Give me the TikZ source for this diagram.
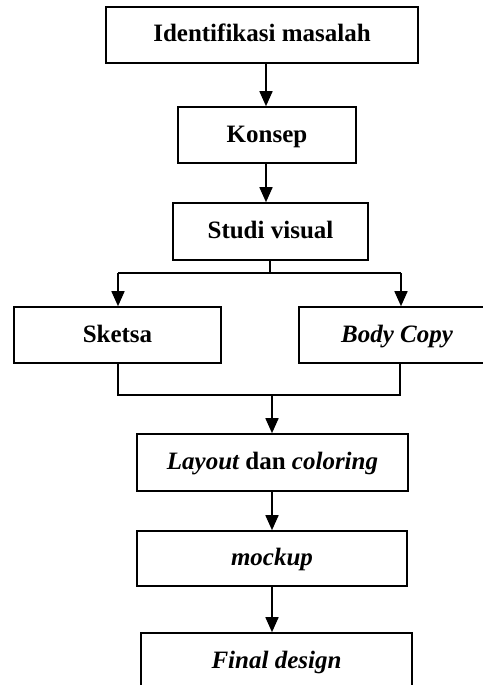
\documentclass[tikz,border=0pt]{standalone}
\usepackage{fontspec}
\setmainfont{Liberation Serif}
\usetikzlibrary{arrows.meta}
\begin{document}
\begin{tikzpicture}[x=1pt,y=-1pt,
  box/.style={draw=black,line width=1.6pt,rectangle,inner sep=0pt,text height=18pt,text depth=4pt,font=\fontsize{25}{28}\selectfont\bfseries},
  arr/.style={line width=1.6pt,-{Triangle[width=13pt,length=15pt]}},
  ln/.style={line width=1.6pt}]
\useasboundingbox (0,0) rectangle (482,685);
\node[box,minimum width=312pt,minimum height=56pt] (id) at (262,35) {Identifikasi masalah};
\node[box,minimum width=178pt,minimum height=56pt] (konsep) at (267,135) {Konsep};
\node[box,minimum width=195pt,minimum height=57pt] (studi) at (270.5,231.5) {Studi visual};
\node[box,minimum width=207pt,minimum height=56pt] (sketsa) at (117.5,335) {Sketsa};
\node[box,minimum width=196pt,minimum height=56pt] (body) at (397,335) {\itshape Body Copy};
\node[box,minimum width=271pt,minimum height=57pt] (layout) at (272.5,462.5) {\itshape Layout \upshape dan \itshape coloring};
\node[box,minimum width=270pt,minimum height=55pt] (mockup) at (272,558.5) {\itshape mockup};
\node[box,minimum width=271pt,minimum height=57pt] (final) at (276.5,661.5) {\itshape Final design};
\coordinate (c1) at (266,0);
\coordinate (c2) at (270,273);
\coordinate (cl) at (118,273);
\coordinate (cr) at (401,273);
\coordinate (m) at (272,395);
\coordinate (ml) at (118,395);
\coordinate (mr) at (400,395);
\draw[arr] (id.south -| c1) -- (konsep.north -| c1);
\draw[arr] (konsep.south -| c1) -- (studi.north -| c1);
\draw[ln] (studi.south -| c2) -- (c2);
\draw[ln] (cl) -- (cr);
\draw[arr] (cl) -- (sketsa.north -| cl);
\draw[arr] (cr) -- (body.north -| cr);
\draw[ln] (sketsa.south -| ml) -- (ml) -- (mr) -- (body.south -| mr);
\draw[arr] (m) -- (layout.north -| m);
\draw[arr] (layout.south -| m) -- (mockup.north -| m);
\draw[arr] (mockup.south -| m) -- (final.north -| m);
\end{tikzpicture}
\end{document}
